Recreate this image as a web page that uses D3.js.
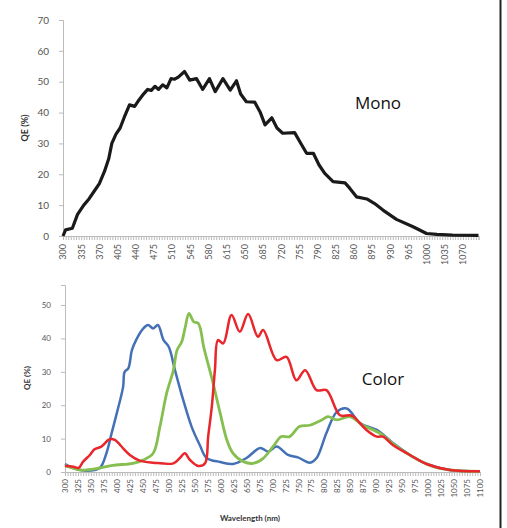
<!DOCTYPE html>
<html>
<head>
<meta charset="utf-8">
<script src="https://cdn.jsdelivr.net/npm/d3@7"></script>
<style>
  body { margin: 0; background: #fff; }
  text { font-family: Lato, "Open Sans", sans-serif; }
</style>
</head>
<body>
<svg id="chart" width="507" height="528"></svg>
<script>
// Mono QE curve (wavelength nm, QE %)
const monoNm = [300,305,318,328,340,350,360,370,380,388,394,402,410,418,428,438,446,455,463,470,477,484,492,500,508,515,522,534,544,557,569,582,593,608,622,634,642,653,669,680,689,702,712,723,746,758,769,782,793,804,820,843,852,865,885,900,916,942,974,1000,1020,1050,1100];
const monoQE = [0,2,2.5,7,10,12,14.5,17,21,25,30,33,35,38.5,42.5,42,44,46,47.5,47.2,48.5,47.5,49,48,51,50.8,51.5,53.3,50.5,51,47.5,51,46.8,51,47.3,50.3,46,43.5,43.4,40,36,38.3,35,33.3,33.5,30,26.8,26.8,23,20.3,17.6,17.2,15.5,12.7,12,10.5,8.4,5.4,3,0.8,0.5,0.3,0.2];

// Color sensor QE curves
const blueNm = [300,316,341,367,380,390,400,412,415,422,429,437,451,460,470,479,490,500,512,528,544,560,573,599,624,650,676,692,708,730,750,772,785,804,824,843,869,901,932,965,1003,1042,1100];
const blueQE = [2.4,1.2,0.4,1.2,5.7,11.7,17.7,25.5,30,31,36.5,39.5,43,44,43,44,39.5,37.5,30.5,21.5,13.6,8,4.2,3,2.4,4.2,7.2,6.1,7.6,5.1,4.3,2.8,4.2,11.7,18,19,14.6,12.6,8.7,5.1,2.1,0.6,0.2];

const greenNm = [300,329,367,392,431,451,470,483,496,509,516,525,532,539,548,557,568,584,599,612,624,644,663,682,701,717,733,752,772,795,807,824,849,874,907,932,965,1003,1042,1100];
const greenQE = [2,0.6,1.2,2,2.6,3.6,5.6,13.6,23.6,30.5,36.5,39,43.5,47.5,45,44.5,37,27.5,17.7,9.6,5.6,3.1,2.6,4.1,7.6,10.6,10.6,13.6,14,15.6,16.6,15.6,16.6,14,11.6,8.5,5,2,0.6,0.2];

const redNm = [300,316,326,335,348,357,370,386,396,412,425,444,470,509,521,531,541,557,570,576,583,589,595,605,621,637,653,672,682,708,727,746,763,785,804,830,849,856,881,901,913,932,965,997,1042,1100];
const redQE = [1.8,1.6,1.2,3.1,5.1,6.8,7.6,9.8,9.6,7.1,5.1,3.4,2.8,2.6,4.1,5.6,3.6,1.8,2.6,10.6,19.6,30.5,39.5,38.5,47,42,47.3,40.5,42.5,33.5,34.5,27.5,30.5,24.5,24.5,17,17,16.6,12.6,10.6,10.6,8.1,5.1,2.4,0.6,0.2];

const monoTicks = d3.range(300, 1071, 35);
const colorTicks = d3.range(300, 1101, 25);
const minorTicks = d3.range(300, 1101, 5);
const monoYTicks = [0,10,20,30,40,50,60,70];
const colorYTicks = [0,10,20,30,40,50];

const svg = d3.select("#chart");

function drawPanel(opt) {
  const x = d3.scaleLinear().domain([300, 1100]).range(opt.xr);
  const y = d3.scaleLinear().domain(opt.yd).range(opt.yr);
  const g = svg.append("g");

  // y axis
  const ya = g.append("g").attr("transform", `translate(${opt.xr[0]},0)`)
    .call(d3.axisLeft(y).tickValues(opt.yTicks).tickSize(4).tickPadding(opt.yPad));
  ya.select(".domain").attr("stroke", "#bbb");
  ya.selectAll(".tick line").attr("stroke", "#bbb");
  ya.selectAll("text").attr("fill", "#555").style("font-size", opt.yFont + "px").style("font-family", "Lato");

  // x axis minor ticks
  const xa = g.append("g").attr("transform", `translate(0,${opt.yr[0]})`)
    .call(d3.axisBottom(x).tickValues(minorTicks).tickSize(4).tickFormat(""));
  xa.select(".domain").attr("stroke", "#bbb");
  xa.selectAll(".tick line").attr("stroke", "#bbb");

  // x axis labels
  const xl = g.append("g").attr("transform", `translate(0,${opt.yr[0]})`)
    .call(d3.axisBottom(x).tickValues(opt.xTicks).tickSize(0).tickPadding(0).tickFormat(d3.format("d")));
  xl.select(".domain").remove();
  xl.selectAll("text")
    .attr("fill", "#555")
    .style("font-size", opt.xFont + "px")
    .style("font-family", "Lato")
    .attr("text-anchor", "end")
    .attr("dy", "0.32em")
    .attr("transform", `translate(0,${opt.xPad}) rotate(-90)`)
    .attr("y", 0).attr("x", 0);

  const line = d3.line().x(d => x(d[0])).y(d => y(d[1])).curve(opt.curve);
  opt.series.forEach(s => {
    g.append("path")
      .datum(d3.zip(s.nm, s.qe))
      .attr("fill", "none")
      .attr("stroke", s.color)
      .attr("stroke-width", s.width)
      .attr("stroke-linejoin", "round")
      .attr("d", line);
  });

  // y title
  g.append("text")
    .attr("transform", `translate(${opt.yTitle[0]},${opt.yTitle[1]}) rotate(-90)`)
    .attr("text-anchor", "middle")
    .style("font-size", opt.yTitleFont + "px")
    .style("font-weight", "bold")
    .attr("fill", "#333")
    .text("QE (%)");

  g.append("text")
    .attr("x", opt.label[0]).attr("y", opt.label[1])
    .attr("text-anchor", "middle")
    .style("font-size", "17px")
    .style("font-family", "'Open Sans', sans-serif")
    .attr("fill", "#111")
    .text(opt.labelText);
}

drawPanel({
  xr: [63, 478.5], yd: [0, 70], yr: [236, 20],
  yTicks: monoYTicks, xTicks: monoTicks, yPad: 10, yFont: 10, xFont: 9, xPad: 8,
  curve: d3.curveLinear,
  series: [{ nm: monoNm, qe: monoQE, color: "#1a1a1a", width: 3.2 }],
  yTitle: [28, 128], yTitleFont: 9,
  label: [378, 109], labelText: "Mono"
});

drawPanel({
  xr: [65, 480], yd: [0, 56], yr: [472, 285],
  yTicks: colorYTicks, xTicks: colorTicks, yPad: 10, yFont: 8, xFont: 8, xPad: 7,
  curve: d3.curveCatmullRom,
  series: [
    { nm: blueNm, qe: blueQE, color: "#4470b5", width: 2.5 },
    { nm: greenNm, qe: greenQE, color: "#86bf50", width: 2.8 },
    { nm: redNm, qe: redQE, color: "#e8262b", width: 2.5 }
  ],
  yTitle: [30, 378], yTitleFont: 8,
  label: [383, 385], labelText: "Color"
});

svg.append("text")
  .attr("x", 250).attr("y", 521)
  .attr("text-anchor", "middle")
  .style("font-size", "8px").style("font-weight", "bold")
  .attr("fill", "#333")
  .text("Wavelength (nm)");

// right frame edge
svg.append("line").attr("x1", 500.5).attr("x2", 500.5).attr("y1", 0).attr("y2", 528)
  .attr("stroke", "#222").attr("stroke-width", 2);
</script>
</body>
</html>
